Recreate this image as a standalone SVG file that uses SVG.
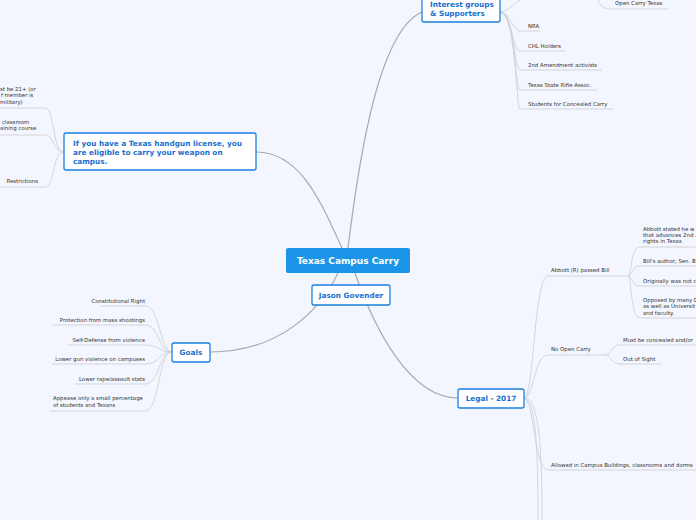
<svg xmlns="http://www.w3.org/2000/svg" width="696" height="520" viewBox="0 0 696 520">
<style>
.t{font-family:"DejaVu Sans",Verdana,sans-serif;font-size:5.4px;fill:#333}
.r{text-anchor:end}
.n{fill:#fff;stroke:#1a80e0;stroke-width:1.3}
.nt{font-family:"DejaVu Sans",Verdana,sans-serif;font-weight:bold;font-size:7.3px;fill:#1a6fd0}
.m{fill:none;stroke:#aaa;stroke-width:1.2}
.l{fill:none;stroke:#d0d0d6;stroke-width:0.9}
</style>
<rect width="696" height="520" fill="#f3f6fe"/>
<g id="connectors">
<path class="m" d="M348 248 C360 150 380 30 422 12"/>
<path class="m" d="M342 248 C320 200 300 152 256 152"/>
<path class="m" d="M338 273 C320 310 280 352 210 352"/>
<path class="m" d="M355 273 C375 330 410 398 458 398"/>
<path class="l" d="M500 12 C510 12 512 30 520 31 L540 31"/>
<path class="l" d="M500 12 C512 12 512 50 520 51 L565 51"/>
<path class="l" d="M500 12 C514 12 514 70 520 70 L602 70"/>
<path class="l" d="M500 12 C515 12 515 90 520 90 L597 90"/>
<path class="l" d="M500 12 C516 12 516 109 520 109 L613 109"/>
<path class="l" d="M500 12 C510 10 515 3 520 0"/>
<path class="l" d="M598 0 C600 6 604 9 612 9 L668 9"/>
<path class="l" d="M524 398 C534 398 534 276 548 276 L615 276 L628 276"/>
<path class="l" d="M628 276 C632 276 630 247 640 247 L696 247"/>
<path class="l" d="M628 276 C632 276 632 266 640 266 L696 266"/>
<path class="l" d="M628 276 C632 276 632 286 640 286 L696 286"/>
<path class="l" d="M628 276 C632 276 630 318 640 318 L696 318"/>
<path class="l" d="M524 398 C534 398 534 355 548 355 L606 355"/>
<path class="l" d="M606 355 C612 355 610 345 620 345 L696 345"/>
<path class="l" d="M606 355 C612 355 610 364 620 364 L661 364"/>
<path class="l" d="M524 398 C534 398 534 470 548 470 L696 470"/>
<path class="l" d="M524 398 C536 398 538 450 538 520"/>
<path class="l" d="M526 398 C540 400 542 460 542 520"/>
<path class="l" d="M172 352 C160 352 160 306 145 306 L100 306"/>
<path class="l" d="M172 352 C158 352 160 325 145 325 L52 325"/>
<path class="l" d="M172 352 C158 352 160 345 145 345 L68 345"/>
<path class="l" d="M172 352 C158 352 160 364 145 364 L52 364"/>
<path class="l" d="M172 352 C158 352 160 384 145 384 L75 384"/>
<path class="l" d="M172 352 C158 352 160 411 145 411 L50 411"/>
<path class="l" d="M64 152 C52 152 55 108 45 108 L0 108"/>
<path class="l" d="M64 152 C52 152 55 135 45 135 L0 135"/>
<path class="l" d="M64 152 C52 152 55 187 45 187 L0 187"/>
</g>
<g id="center"><rect x="286" y="248" width="124" height="25" rx="2" fill="#1a95e8"/><text x="348" y="264" text-anchor="middle" font-family="DejaVu Sans,Verdana,sans-serif" font-weight="bold" font-size="9" fill="#fff">Texas Campus Carry</text></g>
<g id="jason"><rect class="n" x="312" y="285" width="78" height="20" rx="2"/><text class="nt" x="351" y="298" text-anchor="middle">Jason Govender</text></g>
<g id="interest"><rect class="n" x="422" y="-4" width="78" height="26" rx="2"/><text class="nt" x="430" y="7">Interest groups</text><text class="nt" x="430" y="16">&amp; Supporters</text></g>
<g id="legal"><rect class="n" x="458" y="389" width="66" height="19" rx="2"/><text class="nt" x="491" y="401" text-anchor="middle">Legal - 2017</text></g>
<g id="goals"><rect class="n" x="172" y="343" width="38" height="19" rx="2"/><text class="nt" x="191" y="355" text-anchor="middle">Goals</text></g>
<g id="license"><rect class="n" x="64" y="133" width="192" height="37" rx="2"/><text class="nt" x="73" y="146">If you have a Texas handgun license, you</text><text class="nt" x="73" y="155">are eligible to carry your weapon on</text><text class="nt" x="73" y="164">campus.</text></g>
<g id="leaves">
<text class="t" x="615" y="5">Open Carry Texas</text>
<text class="t" x="528" y="28">NRA</text>
<text class="t" x="528" y="48">CHL Holders</text>
<text class="t" x="528" y="67">2nd Amendment activists</text>
<text class="t" x="528" y="87">Texas State Rifle Assoc.</text>
<text class="t" x="528" y="106">Students for Concealed Carry</text>
<text class="t" x="551" y="272">Abbott (R) passed Bill</text>
<text class="t" x="643" y="231">Abbott stated he w</text><text class="t" x="643" y="237">that advances 2nd .</text><text class="t" x="643" y="243">rights in Texas</text>
<text class="t" x="643" y="263">Bill's author, Sen. B</text>
<text class="t" x="643" y="283">Originally was not c</text>
<text class="t" x="643" y="302">Opposed by many D</text><text class="t" x="643" y="308">as well as Universit</text><text class="t" x="643" y="315">and faculty.</text>
<text class="t" x="551" y="351">No Open Carry</text>
<text class="t" x="623" y="342">Must be concealed and/or</text>
<text class="t" x="623" y="361">Out of Sight</text>
<text class="t" x="551" y="467">Allowed in Campus Buildings, classrooms and dorms</text>
<text class="t r" x="145" y="303">Constitutional Right</text>
<text class="t r" x="145" y="322">Protection from mass shootings</text>
<text class="t r" x="145" y="342">Self-Defense from violence</text>
<text class="t r" x="145" y="361">Lower gun violence on campuses</text>
<text class="t r" x="145" y="381">Lower rape/assault stats</text>
<text class="t" x="53" y="400">Appease only a small percentage</text><text class="t" x="53" y="407">of students and Texans</text>
<text class="t" x="0" y="91">st be 21+ (or</text><text class="t" x="1" y="97">f member is</text><text class="t" x="0" y="104">military)</text>
<text class="t" x="2" y="124">classroom</text><text class="t" x="0" y="130">aining course</text>
<text class="t r" x="38" y="183">Restrictions</text>
</g>
</svg>
